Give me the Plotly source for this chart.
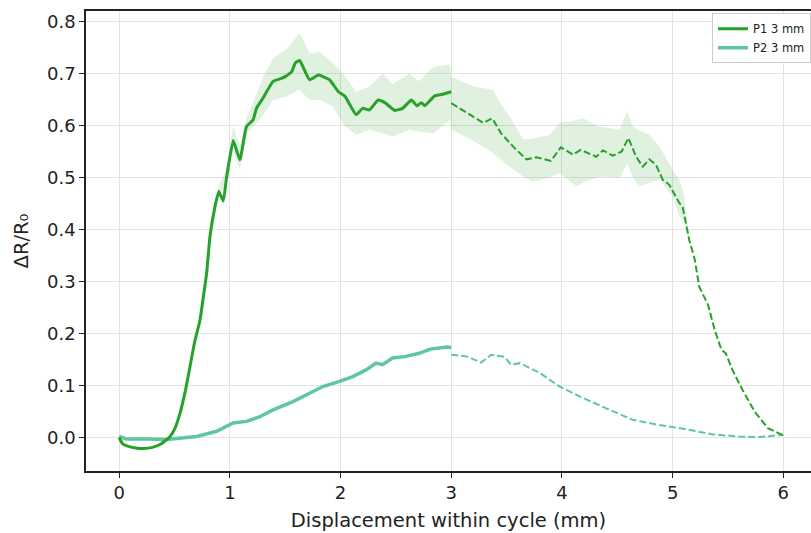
import plotly.graph_objects as go

# P1 solid (loading, 0-3 mm)
p1_x = [0.0, 0.03, 0.07, 0.15, 0.22, 0.30, 0.38, 0.46, 0.50, 0.55, 0.60, 0.64, 0.68, 0.73, 0.76, 0.79, 0.82, 0.865,
        0.90, 0.94, 0.97, 1.03, 1.09, 1.15, 1.21, 1.24, 1.30, 1.39, 1.47, 1.50, 1.56, 1.59, 1.63, 1.72, 1.80,
        1.90, 1.98, 2.04, 2.14, 2.20, 2.26, 2.34, 2.40, 2.49, 2.56, 2.64, 2.69, 2.73, 2.76, 2.85, 2.90, 3.00]
p1_y = [0.0, -0.012, -0.016, -0.020, -0.021, -0.019, -0.012, 0.002, 0.016, 0.047, 0.092, 0.137, 0.182, 0.226,
        0.270, 0.316, 0.387, 0.444, 0.473, 0.455, 0.500, 0.571, 0.534, 0.598, 0.611, 0.633, 0.653, 0.685, 0.691,
        0.694, 0.704, 0.720, 0.725, 0.688, 0.697, 0.688, 0.665, 0.656, 0.621, 0.633, 0.630, 0.649, 0.644, 0.629,
        0.633, 0.649, 0.638, 0.644, 0.638, 0.657, 0.659, 0.665]

# P1 dashed (unloading, 3-6 mm)
p1d_x = [3.00, 3.14, 3.29, 3.37, 3.45, 3.57, 3.68, 3.77, 3.90, 3.99, 4.10, 4.17, 4.31, 4.37, 4.46, 4.54, 4.60,
         4.67, 4.73, 4.79, 4.85, 4.91, 4.97, 5.06, 5.09, 5.15, 5.20, 5.24, 5.32, 5.38, 5.44, 5.48, 5.54, 5.63,
         5.74, 5.86, 6.00]
p1d_y = [0.643, 0.624, 0.605, 0.614, 0.585, 0.557, 0.535, 0.539, 0.532, 0.558, 0.544, 0.553, 0.540, 0.552, 0.542,
         0.550, 0.576, 0.540, 0.521, 0.535, 0.524, 0.496, 0.486, 0.451, 0.444, 0.380, 0.342, 0.290, 0.255, 0.207,
         0.169, 0.162, 0.130, 0.092, 0.050, 0.018, 0.004]

# P1 spread band (upper / lower)
band_x = [0.80, 0.90, 0.97, 1.03, 1.09, 1.15, 1.24, 1.30, 1.39, 1.51, 1.63, 1.72, 1.81, 1.93, 2.03, 2.14, 2.26,
          2.38, 2.47, 2.62, 2.71, 2.84, 2.99, 3.00, 3.20, 3.38, 3.44, 3.53, 3.65, 3.74, 3.89, 3.98, 4.13, 4.19,
          4.34, 4.52, 4.59, 4.64, 4.70, 4.79, 4.88, 4.94, 5.00, 5.06, 5.10, 5.15]
band_up = [0.36, 0.485, 0.515, 0.600, 0.560, 0.615, 0.660, 0.694, 0.730, 0.746, 0.778, 0.739, 0.742, 0.720,
           0.698, 0.665, 0.675, 0.700, 0.680, 0.700, 0.685, 0.713, 0.717, 0.694, 0.675, 0.669, 0.643, 0.617,
           0.573, 0.575, 0.582, 0.605, 0.610, 0.614, 0.598, 0.592, 0.627, 0.598, 0.590, 0.582, 0.560, 0.537,
           0.515, 0.496, 0.470, 0.385]
band_lo = [0.35, 0.465, 0.490, 0.550, 0.515, 0.585, 0.605, 0.620, 0.649, 0.656, 0.669, 0.649, 0.649, 0.637,
           0.600, 0.582, 0.592, 0.585, 0.579, 0.592, 0.588, 0.585, 0.611, 0.592, 0.570, 0.547, 0.535, 0.520,
           0.502, 0.492, 0.500, 0.508, 0.483, 0.490, 0.502, 0.499, 0.528, 0.500, 0.483, 0.490, 0.496, 0.480,
           0.463, 0.425, 0.420, 0.375]

# P2 solid (loading)
p2_x = [0.0, 0.07, 0.25, 0.43, 0.70, 0.88, 1.03, 1.15, 1.27, 1.39, 1.57, 1.69, 1.84, 1.99, 2.11, 2.23, 2.32,
        2.38, 2.47, 2.59, 2.71, 2.81, 2.96, 3.00]
p2_y = [0.002, -0.003, -0.003, -0.004, 0.002, 0.012, 0.028, 0.031, 0.040, 0.053, 0.069, 0.082, 0.098, 0.108,
        0.117, 0.130, 0.143, 0.140, 0.153, 0.156, 0.162, 0.170, 0.174, 0.173]

# P2 dashed (unloading)
p2d_x = [3.00, 3.14, 3.27, 3.36, 3.48, 3.54, 3.62, 3.80, 3.98, 4.16, 4.40, 4.64, 4.88, 5.12, 5.36, 5.60, 5.78, 6.00]
p2d_y = [0.159, 0.156, 0.144, 0.159, 0.155, 0.140, 0.143, 0.124, 0.098, 0.079, 0.056, 0.034, 0.024, 0.016,
         0.006, 0.002, 0.001, 0.005]

x_ticks = [0, 1, 2, 3, 4, 5, 6]
y_ticks = [0.0, 0.1, 0.2, 0.3, 0.4, 0.5, 0.6, 0.7, 0.8]

C1 = "#26a12a"
C2 = "#5ec6a0"

fig = go.Figure()
fig.add_trace(go.Scatter(x=band_x + band_x[::-1], y=band_up + band_lo[::-1], fill="toself",
                         fillcolor="rgba(44,160,44,0.15)", line=dict(width=0), mode="lines",
                         showlegend=False, hoverinfo="skip"))
fig.add_trace(go.Scatter(x=p2_x, y=p2_y, mode="lines", line=dict(color=C2, width=3.5), name="P2 3 mm",
                         showlegend=False))
fig.add_trace(go.Scatter(x=p2d_x, y=p2d_y, mode="lines", line=dict(color=C2, width=2, dash="7px,3px"),
                         showlegend=False))
fig.add_trace(go.Scatter(x=p1_x, y=p1_y, mode="lines", line=dict(color=C1, width=3), name="P1 3 mm",
                         line_shape="spline", line_smoothing=0.4))
fig.add_trace(go.Scatter(x=p1d_x, y=p1d_y, mode="lines", line=dict(color=C1, width=2, dash="7px,3px"),
                         showlegend=False))
# legend entry for P2 (solid sample)
fig.add_trace(go.Scatter(x=[None], y=[None], mode="lines", line=dict(color=C2, width=3.5), name="P2 3 mm"))

font = "DejaVu Sans"
fig.update_layout(
    width=811, height=533,
    margin=dict(l=86, r=0, t=11, b=62),
    paper_bgcolor="white", plot_bgcolor="white",
    font=dict(family=font, size=18, color="#222"),
    legend=dict(x=1.0, xanchor="right", y=0.995, yanchor="top", font=dict(size=11.5, color="#222"),
                bgcolor="white", bordercolor="#cccccc", borderwidth=1, tracegroupgap=0,
                itemwidth=30),
    xaxis=dict(range=[-0.3, 6.25], tickvals=x_ticks, ticktext=[str(v) for v in x_ticks],
               showgrid=True, gridcolor="#e3e3e3", gridwidth=1, zeroline=False,
               showline=True, linecolor="#222", linewidth=1.5, mirror=True,
               ticks="outside", ticklen=5, tickcolor="#222", tickfont=dict(size=18),
               title=dict(text="Displacement within cycle (mm)", standoff=11, font=dict(size=19.5))),
    yaxis=dict(range=[-0.0644, 0.8202], tickvals=y_ticks, ticktext=[f"{v:.1f}" for v in y_ticks],
               showgrid=True, gridcolor="#e3e3e3", gridwidth=1, zeroline=False,
               showline=True, linecolor="#222", linewidth=1.5, mirror=False,
               ticks="outside", ticklen=5, tickcolor="#222", tickfont=dict(size=18),
               title=dict(text="ΔR/R₀", standoff=13, font=dict(size=19.5))),
)
fig.write_html("out.html")
